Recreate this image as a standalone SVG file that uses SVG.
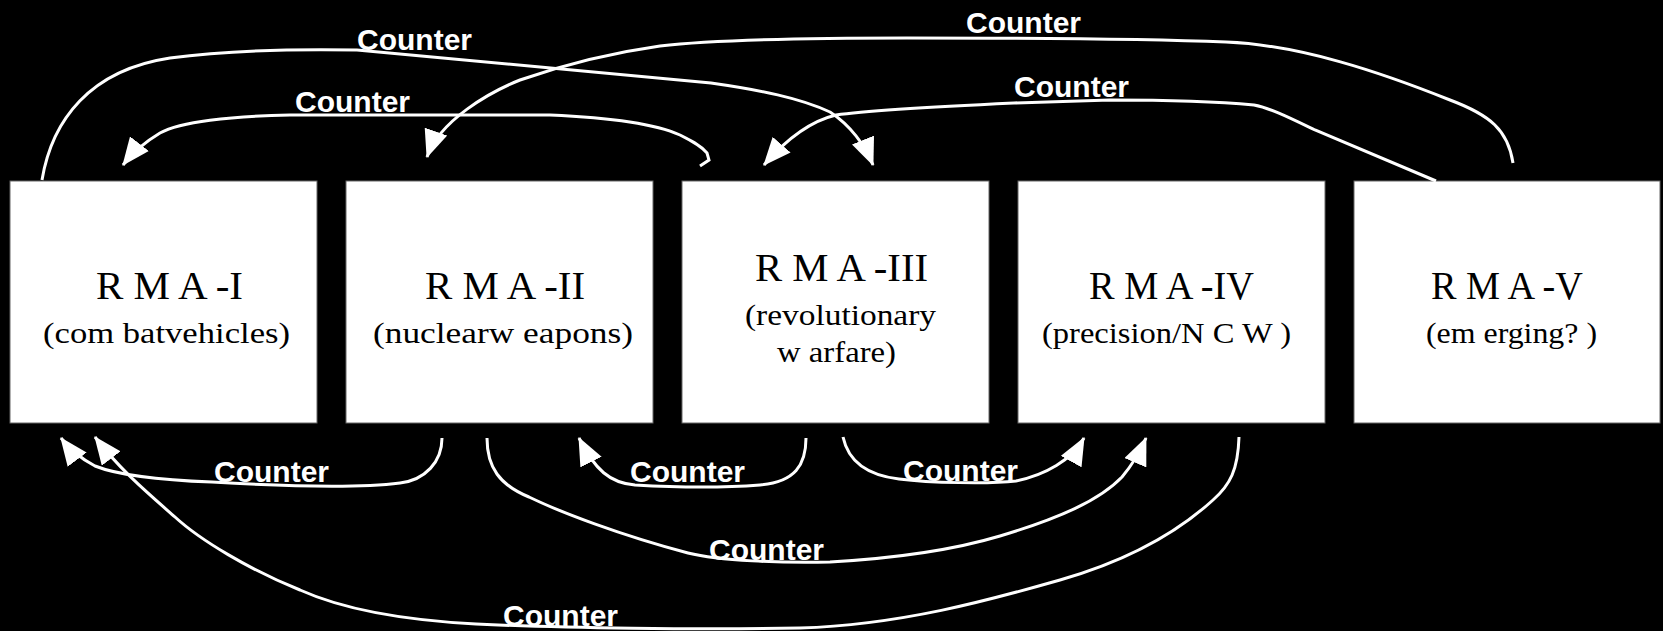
<svg xmlns="http://www.w3.org/2000/svg" width="1663" height="631" viewBox="0 0 1663 631">
  <defs>
    <style>
      .box { fill: #ffffff; stroke: #666666; stroke-width: 1; }
      .title { font-family: "Liberation Serif", "DejaVu Serif", serif; font-size: 40px; fill: #000000; }
      .sub { font-family: "Liberation Serif", "DejaVu Serif", serif; font-size: 30px; fill: #000000; }
      .link { fill: none; stroke: #ffffff; stroke-width: 3; marker-end: url(#ah); }
      .lbl { font-family: "Liberation Sans", Arial, sans-serif; font-weight: bold; font-size: 30px; fill: #ffffff; }
    </style>
    <marker id="ah" markerUnits="userSpaceOnUse" markerWidth="28" markerHeight="24" viewBox="0 0 26 22" refX="25" refY="11" orient="auto">
      <path d="M0,0 L26,11 L0,22 z" fill="#ffffff"/>
    </marker>
  </defs>

  <rect x="0" y="0" width="1663" height="631" fill="#000000"/>

  <!-- RMA stages -->
  <g id="rma1">
    <rect class="box" x="10" y="181" width="307" height="242"/>
    <text class="title" x="96" y="299" textLength="147" lengthAdjust="spacingAndGlyphs">R M A -I</text>
    <text class="sub" x="43" y="343" textLength="247" lengthAdjust="spacingAndGlyphs">(com batvehicles)</text>
  </g>
  <g id="rma2">
    <rect class="box" x="346" y="181" width="307" height="242"/>
    <text class="title" x="425" y="299" textLength="160" lengthAdjust="spacingAndGlyphs">R M A -II</text>
    <text class="sub" x="373" y="343" textLength="260" lengthAdjust="spacingAndGlyphs">(nuclearw eapons)</text>
  </g>
  <g id="rma3">
    <rect class="box" x="682" y="181" width="307" height="242"/>
    <text class="title" x="755" y="281" textLength="173" lengthAdjust="spacingAndGlyphs">R M A -III</text>
    <text class="sub" x="745" y="325" textLength="191" lengthAdjust="spacingAndGlyphs">(revolutionary</text>
    <text class="sub" x="777" y="362" textLength="119" lengthAdjust="spacingAndGlyphs">w arfare)</text>
  </g>
  <g id="rma4">
    <rect class="box" x="1018" y="181" width="307" height="242"/>
    <text class="title" x="1089" y="299" textLength="165" lengthAdjust="spacingAndGlyphs">R M A -IV</text>
    <text class="sub" x="1042" y="343" textLength="249" lengthAdjust="spacingAndGlyphs">(precision/N C W )</text>
  </g>
  <g id="rma5">
    <rect class="box" x="1354" y="181" width="306" height="242"/>
    <text class="title" x="1431" y="299" textLength="152" lengthAdjust="spacingAndGlyphs">R M A -V</text>
    <text class="sub" x="1426" y="343" textLength="171" lengthAdjust="spacingAndGlyphs">(em erging? )</text>
  </g>

  <!-- "Counter" relations between stages -->
  <g id="connectors">
    <!-- over the top -->
    <path class="link" d="M42,180 C52,120 90,70 170,58 C230,50 300,49 357,50 L711,83 C760,90 800,98 830,112 C850,125 865,145 873,165"/>
    <path class="link" d="M700,166 L709,160 L707,153 C700,145 690,140 680,135 C660,126 620,118 550,115 L290,115 C230,116 180,122 160,133 C145,142 133,152 123,165"/>
    <path class="link" d="M1513,163 C1508,130 1490,115 1450,100 C1380,72 1300,45 1226,42 C1150,39 1000,38 907,38 C800,38 711,40 660,46 C610,53 560,66 520,80 C490,92 440,120 427,157"/>
    <path class="link" d="M1436,181 L1315,130 C1290,118 1270,108 1254,105 C1200,100 1150,100 1110,100 L1014,103 C950,106 870,110 836,115 C815,120 790,135 764,165"/>
    <!-- underneath -->
    <path class="link" d="M442,438 C442,462 425,480 400,483 C360,488 280,486 212,482 C160,480 120,476 95,466 C80,458 70,450 61,438"/>
    <path class="link" d="M1239,437 C1238,470 1230,485 1213,500 C1180,530 1130,560 1060,580 C990,600 900,625 800,628 C700,630 560,628 476,624 C400,620 340,608 300,590 C250,570 200,540 175,517 C150,495 120,470 95,437"/>
    <path class="link" d="M487,438 C487,468 500,485 529,497 C560,512 620,535 688,553 C720,561 780,563 830,562 C900,558 960,548 1000,536 C1060,518 1100,500 1122,477 C1132,465 1140,452 1146,438"/>
    <path class="link" d="M806,438 C806,465 795,482 760,485 C720,488 670,487 635,485 C610,483 595,470 579,438"/>
    <path class="link" d="M843,437 C848,460 865,475 899,479 C930,483 990,484 1016,481 C1045,475 1072,460 1084,438"/>

    <text class="lbl" x="357" y="50">Counter</text>
    <text class="lbl" x="295" y="112">Counter</text>
    <text class="lbl" x="966" y="33">Counter</text>
    <text class="lbl" x="1014" y="97">Counter</text>
    <text class="lbl" x="214" y="482">Counter</text>
    <text class="lbl" x="630" y="482">Counter</text>
    <text class="lbl" x="903" y="481">Counter</text>
    <text class="lbl" x="709" y="560">Counter</text>
    <text class="lbl" x="503" y="626">Counter</text>
  </g>
</svg>
